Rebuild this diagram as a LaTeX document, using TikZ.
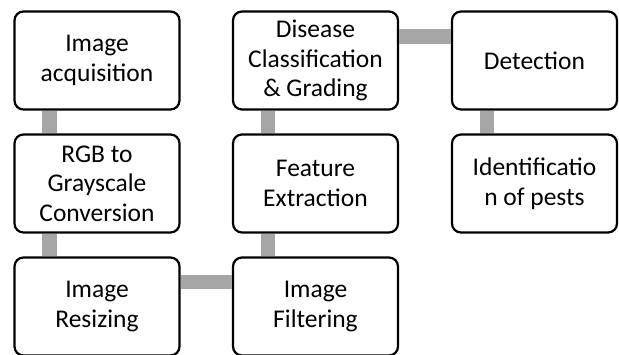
\documentclass[tikz,border=0pt]{standalone}
\usepackage{fontspec}
\setmainfont{Carlito}
\begin{document}
\begin{tikzpicture}[x=1pt,y=-1pt,
  stepbox/.style={draw=black, line width=2.2pt, rounded corners=9pt, fill=white,
    minimum width=165pt, minimum height=98pt, inner sep=0pt, align=center,
    font=\fontsize{25.5}{29.5}\selectfont},
  conn/.style={draw={rgb,255:red,166;green,166;blue,166}, line width=14.5pt}]
\useasboundingbox (0,0) rectangle (619,354);
\fill[white] (0,0) rectangle (619,354);
\node[stepbox] (acq) at (97,60.5) {Image\\acquisition};
\node[stepbox] (rgb) at (97,183.5) {RGB to\\Grayscale\\Conversion};
\node[stepbox] (res) at (97,306.5) {Image\\Resizing};
\node[stepbox] (fil) at (315.5,306.5) {Image\\Filtering};
\node[stepbox] (fea) at (315.5,183.5) {Feature\\Extraction};
\node[stepbox] (dis) at (315.5,60.5) {Disease\\Classification\\\& Grading};
\node[stepbox] (det) at (534.5,60.5) {Detection};
\node[stepbox] (ide) at (534.5,183.5) {Identificatio\\n of pests};
\draw[conn] ([xshift=-47.5pt]acq.south) -- ([xshift=-47.5pt]rgb.north);
\draw[conn] ([xshift=-47.5pt]rgb.south) -- ([xshift=-47.5pt]res.north);
\draw[conn] ([yshift=24.5pt]res.east) -- ([yshift=24.5pt]fil.west);
\draw[conn] ([xshift=-47.5pt]fil.north) -- ([xshift=-47.5pt]fea.south);
\draw[conn] ([xshift=-47.5pt]fea.north) -- ([xshift=-47.5pt]dis.south);
\draw[conn] ([yshift=24pt]dis.east) -- ([yshift=24pt]det.west);
\draw[conn] ([xshift=-47.5pt]det.south) -- ([xshift=-47.5pt]ide.north);
\end{tikzpicture}
\end{document}
